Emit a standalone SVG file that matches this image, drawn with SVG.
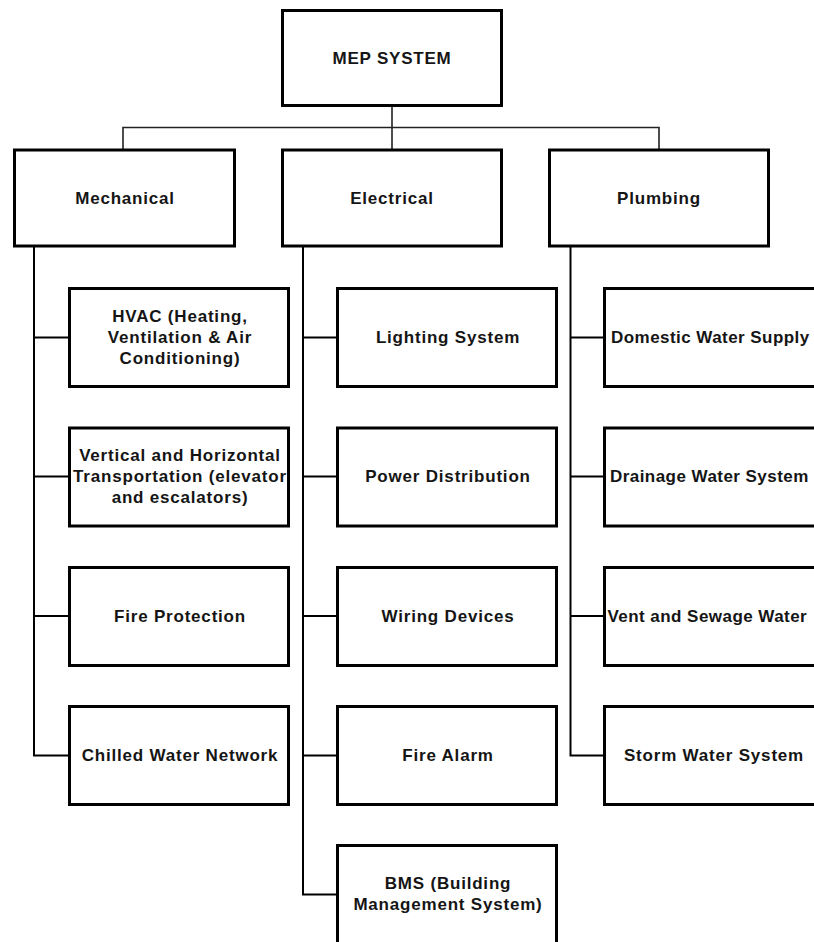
<svg xmlns="http://www.w3.org/2000/svg" width="814" height="942" viewBox="0 0 814 942">
<style>
.box{fill:#fff;stroke:#000;stroke-width:3}
.t{font-family:"Liberation Sans",Arial,sans-serif;font-weight:bold;font-size:17px;letter-spacing:0.8px;fill:#151515;text-anchor:middle}
.e{text-anchor:start;letter-spacing:0.45px}
.c{fill:none;stroke:#000;stroke-width:2}
.ct{fill:none;stroke:#222;stroke-width:1.6}
</style>
<rect width="814" height="942" fill="#fff"/>
<g id="connectors">
<path class="ct" d="M392 107V149M123 149V127.5H659V149"/>
<path class="c" d="M34 247V755.5H69.5M34 337.5H69.5M34 476.5H69.5M34 616H69.5"/>
<path class="c" d="M303 247V894.5H337.5M303 337.5H337.5M303 476.5H337.5M303 616H337.5M303 755.5H337.5"/>
<path class="c" d="M570.5 247V755.5H604.5M570.5 337.5H604.5M570.5 476.5H604.5M570.5 616H604.5"/>
</g>
<g id="mep"><rect class="box" x="282.5" y="10.5" width="219" height="95"/><text class="t" x="392" y="63.5">MEP SYSTEM</text></g>
<g id="mechanical"><rect class="box" x="14.5" y="150" width="220" height="96"/><text class="t" x="125" y="203.5">Mechanical</text></g>
<g id="electrical"><rect class="box" x="282.5" y="150" width="219" height="96"/><text class="t" x="392" y="203.5">Electrical</text></g>
<g id="plumbing"><rect class="box" x="549.5" y="150" width="219" height="96"/><text class="t" x="659" y="203.5">Plumbing</text></g>

<g id="hvac"><rect class="box" x="69.5" y="288.5" width="219" height="98"/><text class="t" x="180" y="322">HVAC (Heating,</text><text class="t" x="180" y="343">Ventilation &amp; Air</text><text class="t" x="180" y="364">Conditioning)</text></g>
<g id="transport"><rect class="box" x="69.5" y="428" width="219" height="98"/><text class="t" x="180" y="461">Vertical and Horizontal</text><text class="t" x="180" y="482">Transportation (elevator</text><text class="t" x="180" y="503">and escalators)</text></g>
<g id="fireprotection"><rect class="box" x="69.5" y="567.5" width="219" height="98"/><text class="t" x="180" y="621.5">Fire Protection</text></g>
<g id="chilled"><rect class="box" x="69.5" y="706.5" width="219" height="98"/><text class="t" x="180" y="760.5">Chilled Water Network</text></g>

<g id="lighting"><rect class="box" x="337.5" y="288.5" width="219" height="98"/><text class="t" x="448" y="343">Lighting System</text></g>
<g id="power"><rect class="box" x="337.5" y="428" width="219" height="98"/><text class="t" x="448" y="482">Power Distribution</text></g>
<g id="wiring"><rect class="box" x="337.5" y="567.5" width="219" height="98"/><text class="t" x="448" y="621.5">Wiring Devices</text></g>
<g id="firealarm"><rect class="box" x="337.5" y="706.5" width="219" height="98"/><text class="t" x="448" y="760.5">Fire Alarm</text></g>
<g id="bms"><rect class="box" x="337.5" y="845.5" width="219" height="98"/><text class="t" x="448" y="889">BMS (Building</text><text class="t" x="448" y="910">Management System)</text></g>

<g id="domestic"><rect class="box" x="604.5" y="288.5" width="220" height="98"/><text class="t e" x="611" y="343">Domestic Water Supply</text></g>
<g id="drainage"><rect class="box" x="604.5" y="428" width="220" height="98"/><text class="t e" x="610" y="482">Drainage Water System</text></g>
<g id="vent"><rect class="box" x="604.5" y="567.5" width="220" height="98"/><text class="t e" x="607.5" y="621.5">Vent and Sewage Water</text></g>
<g id="storm"><rect class="box" x="604.5" y="706.5" width="220" height="98"/><text class="t" x="714" y="760.5">Storm Water System</text></g>
</svg>
